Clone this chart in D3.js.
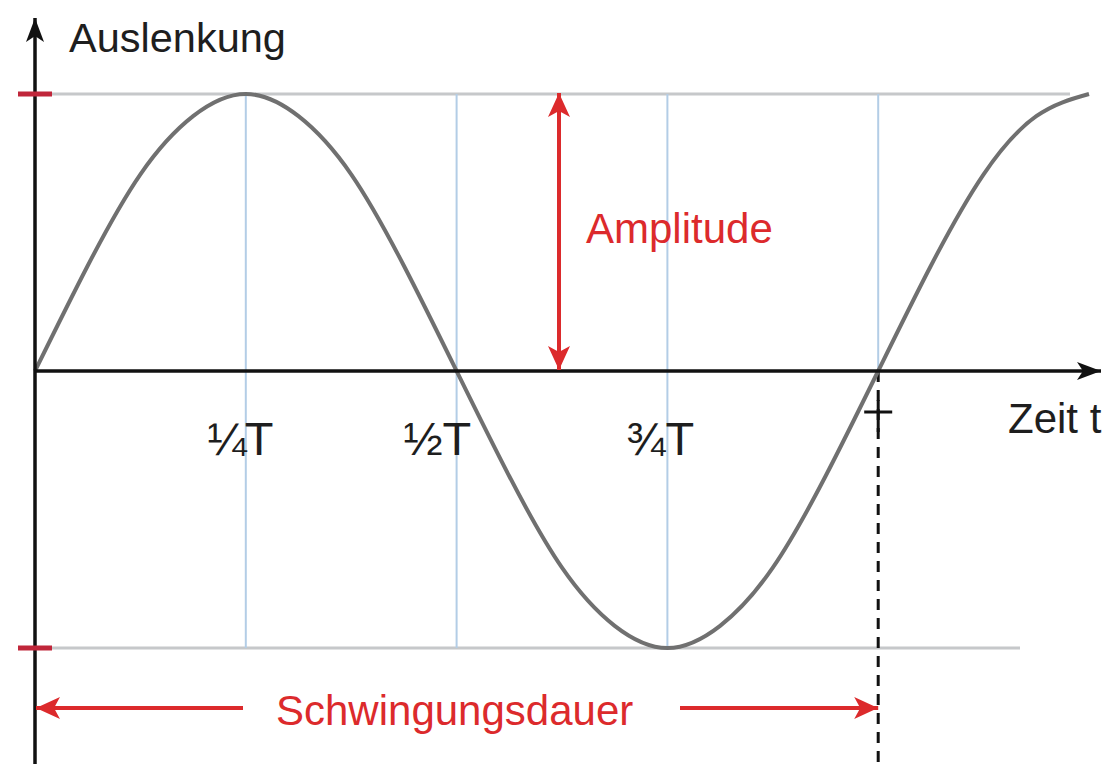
<!DOCTYPE html>
<html>
<head>
<meta charset="utf-8">
<script src="https://cdn.jsdelivr.net/npm/d3@7"></script>
<style>
  html, body { margin: 0; padding: 0; background: #fff; }
  svg { display: block; font-family: "Liberation Sans", Arial, Helvetica, sans-serif; }
</style>
</head>
<body>
<script>
// time in periods (T), displacement in units of amplitude
const times = [0, 0.0625, 0.125, 0.1875, 0.25, 0.3125, 0.375, 0.4375, 0.5,
               0.5625, 0.625, 0.6875, 0.75, 0.8125, 0.875, 0.9375, 1,
               1.0625, 1.125, 1.1875, 1.25];
const displacement = [0, 0.38, 0.71, 0.92, 1, 0.92, 0.71, 0.38, 0,
                      -0.38, -0.71, -0.92, -1, -0.92, -0.71, -0.38, 0,
                      0.38, 0.71, 0.92, 1];
const quarterTicks = [0.25, 0.5, 0.75];
const tickFractions = ["¼", "½", "¾"];
const period = 1;

const width = 1107, height = 764;
const red = "#dc2a2c";

const svg = d3.select("body").append("svg")
    .attr("width", width)
    .attr("height", height);

const x = d3.scaleLinear().domain([0, 1.25]).range([35, 1089]);
const y = d3.scaleLinear().domain([-1, 1]).range([648, 94]);

const defs = svg.append("defs");
const addHead = (id, color, w, h) => {
    defs.append("marker")
        .attr("id", id)
        .attr("viewBox", `0 0 ${w} ${h}`)
        .attr("refX", w).attr("refY", h / 2)
        .attr("markerWidth", w).attr("markerHeight", h)
        .attr("markerUnits", "userSpaceOnUse")
        .attr("orient", "auto-start-reverse")
        .append("path")
        .attr("d", `M0,0 L${w},${h / 2} L0,${h} L${w * 0.25},${h / 2} Z`)
        .attr("fill", color);
};
addHead("blackHead", "#111", 24, 18);
addHead("redHead", red, 24, 22);

// amplitude guide lines
svg.selectAll(".guide")
    .data([1, -1])
    .join("line")
    .attr("class", "guide")
    .attr("x1", 52).attr("x2", d => d > 0 ? 1070 : 1020)
    .attr("y1", d => y(d)).attr("y2", d => y(d))
    .attr("stroke", "#c6c8ca")
    .attr("stroke-width", 3);

// quarter period verticals
svg.selectAll(".quarter")
    .data(quarterTicks)
    .join("line")
    .attr("class", "quarter")
    .attr("x1", d => x(d)).attr("x2", d => x(d))
    .attr("y1", y(1)).attr("y2", y(-1))
    .attr("stroke", "#b3cde6")
    .attr("stroke-width", 2);

svg.append("line")
    .attr("x1", x(period)).attr("x2", x(period))
    .attr("y1", y(1)).attr("y2", y(0))
    .attr("stroke", "#b3cde6")
    .attr("stroke-width", 2);

// dashed period marker
svg.append("line")
    .attr("x1", x(period)).attr("x2", x(period))
    .attr("y1", y(0)).attr("y2", height)
    .attr("stroke", "#111")
    .attr("stroke-width", 3)
    .attr("stroke-dasharray", "11,8");

svg.append("line")
    .attr("x1", x(period) - 14).attr("x2", x(period) + 14)
    .attr("y1", 412).attr("y2", 412)
    .attr("stroke", "#111").attr("stroke-width", 3);
svg.append("line")
    .attr("x1", x(period)).attr("x2", x(period))
    .attr("y1", 400).attr("y2", 432)
    .attr("stroke", "#111").attr("stroke-width", 3);

// the oscillation
const line = d3.line()
    .x((d, i) => x(times[i]))
    .y(d => y(d))
    .curve(d3.curveNatural);

svg.append("path")
    .datum(displacement)
    .attr("d", line)
    .attr("fill", "none")
    .attr("stroke", "#707070")
    .attr("stroke-width", 4);

// axes
svg.append("line")
    .attr("x1", x(0)).attr("x2", x(0))
    .attr("y1", height).attr("y2", 18)
    .attr("stroke", "#111").attr("stroke-width", 3.5)
    .attr("marker-end", "url(#blackHead)");

svg.append("line")
    .attr("x1", x(0)).attr("x2", 1101)
    .attr("y1", y(0)).attr("y2", y(0))
    .attr("stroke", "#111").attr("stroke-width", 3.5)
    .attr("marker-end", "url(#blackHead)");

// red ticks on y axis
svg.selectAll(".ytick")
    .data([1, -1])
    .join("line")
    .attr("class", "ytick")
    .attr("x1", 18).attr("x2", 52)
    .attr("y1", d => y(d)).attr("y2", d => y(d))
    .attr("stroke", "#c0263a")
    .attr("stroke-width", 5);

// tick labels
const labels = svg.selectAll(".tlabel")
    .data(quarterTicks)
    .join("text")
    .attr("class", "tlabel")
    .attr("y", 455)
    .attr("font-size", 47)
    .attr("fill", "#1e1e1e");
labels.append("tspan")
    .attr("x", (d, i) => x(d) + [1, -14, -2][i])
    .attr("text-anchor", "end")
    .text((d, i) => tickFractions[i]);
labels.append("tspan")
    .attr("x", (d, i) => x(d) + [-1, -14, -2][i])
    .attr("text-anchor", "start")
    .text("T");

svg.append("text")
    .attr("x", 1008).attr("y", 433)
    .attr("font-size", 42)
    .attr("fill", "#1e1e1e")
    .text("Zeit t");

svg.append("text")
    .attr("x", 69).attr("y", 52)
    .attr("font-size", 41.5)
    .attr("fill", "#1e1e1e")
    .text("Auslenkung");

// amplitude arrow
svg.append("line")
    .attr("x1", 559).attr("x2", 559)
    .attr("y1", y(0) - 1).attr("y2", y(1) - 1)
    .attr("stroke", red).attr("stroke-width", 4)
    .attr("marker-start", "url(#redHead)")
    .attr("marker-end", "url(#redHead)");

svg.append("text")
    .attr("x", 586).attr("y", 243)
    .attr("font-size", 42)
    .attr("fill", red)
    .text("Amplitude");

// period arrows
svg.append("line")
    .attr("x1", 243).attr("x2", x(0) + 1)
    .attr("y1", 708).attr("y2", 708)
    .attr("stroke", red).attr("stroke-width", 4)
    .attr("marker-end", "url(#redHead)");
svg.append("line")
    .attr("x1", 680).attr("x2", x(period))
    .attr("y1", 708).attr("y2", 708)
    .attr("stroke", red).attr("stroke-width", 4)
    .attr("marker-end", "url(#redHead)");

svg.append("text")
    .attr("x", 276).attr("y", 725)
    .attr("font-size", 42)
    .attr("fill", red)
    .text("Schwingungsdauer");
</script>
</body>
</html>
